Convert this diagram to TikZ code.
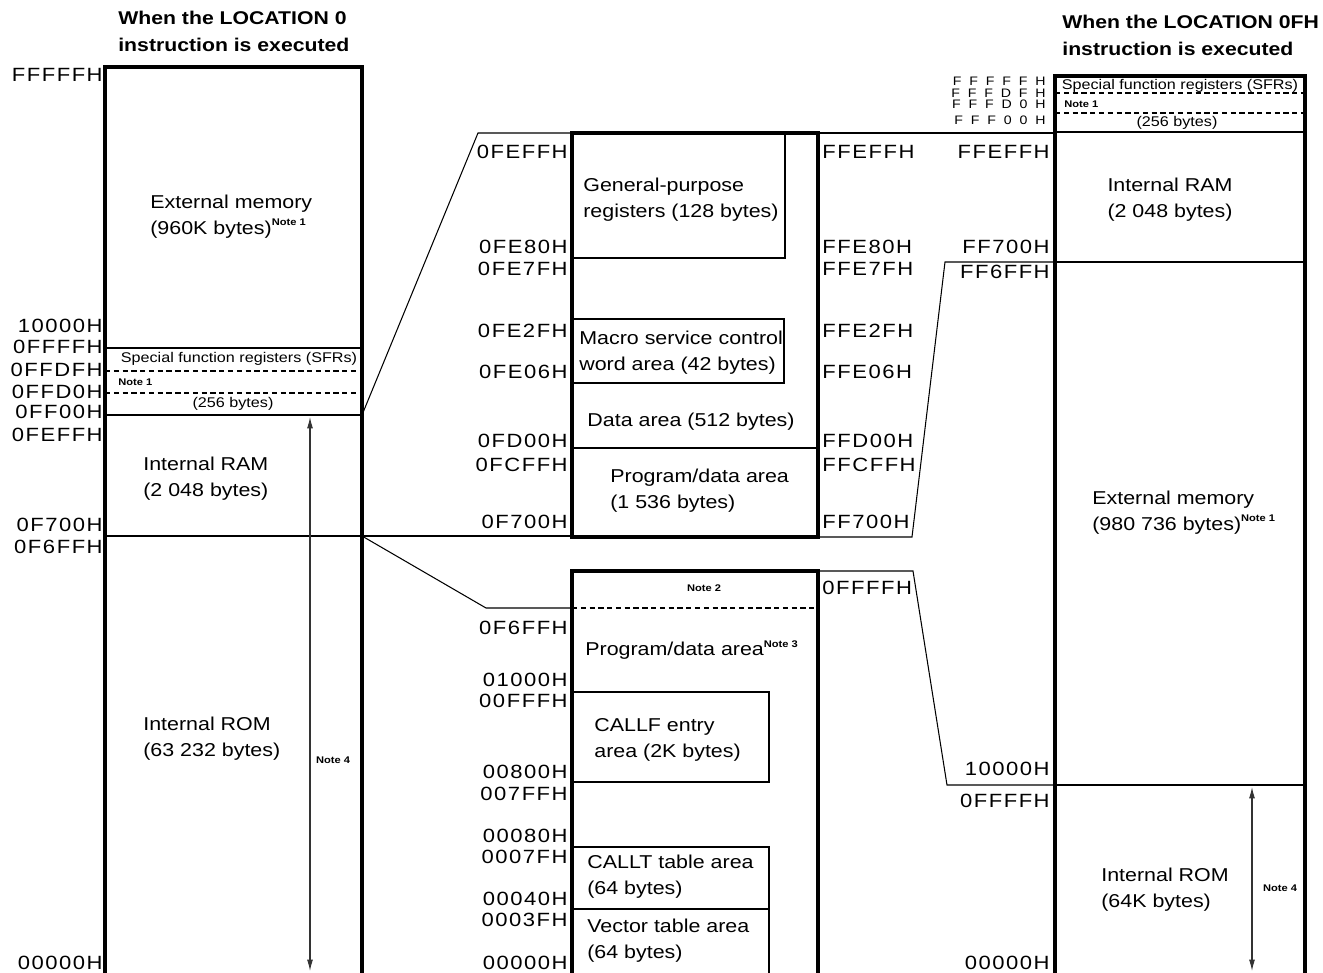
\documentclass[tikz,border=0pt]{standalone}
\usepackage{fontspec}
\setmainfont[FakeStretch=1.15]{Liberation Sans}
\newfontfamily\addrfont[FakeStretch=1.15,LetterSpace=8]{Liberation Sans}
\newfontfamily\sfraddrfont[FakeStretch=1.15,LetterSpace=64]{Liberation Sans}
\usetikzlibrary{arrows.meta}
\newcommand{\notesup}[1]{\raisebox{0.9ex}{\bfseries\fontsize{5.5}{6}\selectfont Note #1}}
\tikzset{
  mem/.style={line width=2pt},
  thinl/.style={line width=0.6pt},
  sep/.style={line width=0.6pt,dash pattern=on 3pt off 2pt},
  dim/.style={line width=0.6pt,black!80,{Latex[length=6.5pt,width=3.4pt]}-{Latex[length=6.5pt,width=3.4pt]}},
  addr/.style={anchor=east,inner sep=0pt,font=\addrfont\fontsize{10.9}{12}\selectfont},
  addrl/.style={anchor=west,inner sep=0pt,font=\addrfont\fontsize{10.9}{12}\selectfont},
  sfraddr/.style={anchor=east,inner sep=0pt,font=\sfraddrfont\fontsize{7}{8}\selectfont},
  lbl/.style={inner sep=0pt,align=left,font=\fontsize{10.6}{14.7}\selectfont},
  small/.style={inner sep=0pt,font=\fontsize{8}{9}\selectfont},
  note/.style={inner sep=0pt,font=\bfseries\fontsize{5.5}{6}\selectfont},
  head/.style={inner sep=0pt,align=left,anchor=west,font=\bfseries\fontsize{10.5}{15.3}\selectfont}
}
\begin{document}
\begin{tikzpicture}[x=0.02cm,y=-0.02cm]
\useasboundingbox (0,0) rectangle (1323,973);
% headings
\node[head] at (118,31) {When the LOCATION 0\\instruction is executed};
\node[head] at (1062,35) {When the LOCATION 0FH\\instruction is executed};

% left map
\draw[thinl] (105,348) -- (362,348);
\draw[sep] (105,371) -- (362,371);
\draw[sep] (105,393) -- (362,393);
\draw[thinl] (105,415) -- (362,415);
\draw[thinl] (105,536) -- (362,536);
\draw[mem] (105,973) -- (105,67) -- (362,67) -- (362,973);
\node[lbl,anchor=west] at (150,217) {External memory\\(960K bytes)\notesup{1}};
\node[small] at (239,359) {Special function registers (SFRs)};
\node[note,anchor=west] at (118,382) {Note 1};
\node[small] at (233,404) {(256 bytes)};
\node[lbl,anchor=west] at (143,479) {Internal RAM\\(2 048 bytes)};
\node[lbl,anchor=west] at (143,739) {Internal ROM\\(63 232 bytes)};
\draw[dim] (310,417) -- (310,971);
\node[note] at (333,760) {Note 4};
\draw (103,75) node[addr]{FFFFFH};
\draw (103,326) node[addr]{10000H};
\draw (103,347) node[addr]{0FFFFH};
\draw (103,370) node[addr]{0FFDFH};
\draw (103,392) node[addr]{0FFD0H};
\draw (103,412) node[addr]{0FF00H};
\draw (103,435) node[addr]{0FEFFH};
\draw (103,525) node[addr]{0F700H};
\draw (103,547) node[addr]{0F6FFH};
\draw (103,963) node[addr]{00000H};

% internal RAM detail
\draw[thinl] (572,258) -- (785,258) -- (785,133);
\draw[thinl] (572,319) -- (784,319) -- (784,383) -- (572,383);
\draw[thinl] (572,448) -- (818,448);
\draw[mem] (572,133) rectangle (818,537);
\node[lbl,anchor=west] at (583,200) {General-purpose\\registers (128 bytes)};
\node[lbl,anchor=west] at (579,353) {Macro service control\\word area (42 bytes)};
\node[lbl] at (691,422) {Data area (512 bytes)};
\node[lbl,anchor=west] at (610,491) {Program/data area\\(1 536 bytes)};
\draw (568,152) node[addr]{0FEFFH};
\draw (568,247) node[addr]{0FE80H};
\draw (568,269) node[addr]{0FE7FH};
\draw (568,331) node[addr]{0FE2FH};
\draw (568,372) node[addr]{0FE06H};
\draw (568,441) node[addr]{0FD00H};
\draw (568,465) node[addr]{0FCFFH};
\draw (568,522) node[addr]{0F700H};
\draw (822,152) node[addrl]{FFEFFH};
\draw (822,247) node[addrl]{FFE80H};
\draw (822,269) node[addrl]{FFE7FH};
\draw (822,331) node[addrl]{FFE2FH};
\draw (822,372) node[addrl]{FFE06H};
\draw (822,441) node[addrl]{FFD00H};
\draw (822,465) node[addrl]{FFCFFH};
\draw (822,522) node[addrl]{FF700H};

% internal ROM detail
\draw[sep] (572,608) -- (818,608);
\draw[thinl] (572,692) -- (769,692) -- (769,782) -- (572,782);
\draw[thinl] (572,847) -- (769,847) -- (769,973);
\draw[thinl] (572,909) -- (769,909);
\draw[mem] (572,973) -- (572,571) -- (818,571) -- (818,973);
\node[note] at (704,588) {Note 2};
\node[lbl,anchor=west] at (585,650) {Program/data area\notesup{3}};
\node[lbl,anchor=west] at (594,740) {CALLF entry\\area (2K bytes)};
\node[lbl,anchor=west] at (587,877) {CALLT table area\\(64 bytes)};
\node[lbl,anchor=west] at (587,941) {Vector table area\\(64 bytes)};
\draw (568,628) node[addr]{0F6FFH};
\draw (568,680) node[addr]{01000H};
\draw (568,701) node[addr]{00FFFH};
\draw (568,772) node[addr]{00800H};
\draw (568,794) node[addr]{007FFH};
\draw (568,836) node[addr]{00080H};
\draw (568,857) node[addr]{0007FH};
\draw (568,899) node[addr]{00040H};
\draw (568,920) node[addr]{0003FH};
\draw (568,963) node[addr]{00000H};
\draw (822,588) node[addrl]{0FFFFH};

% right map
\draw[sep] (1055,93) -- (1305,93);
\draw[sep] (1055,113) -- (1305,113);
\draw[thinl] (1055,132) -- (1305,132);
\draw[thinl] (1055,262) -- (1305,262);
\draw[thinl] (1055,785) -- (1305,785);
\draw[mem] (1055,973) -- (1055,76) -- (1305,76) -- (1305,973);
\node[small] at (1180,86) {Special function registers (SFRs)};
\node[note,anchor=west] at (1064,104) {Note 1};
\node[small] at (1177,123) {(256 bytes)};
\node[lbl,align=center] at (1170,200) {Internal RAM\\(2 048 bytes)};
\node[lbl,anchor=west] at (1092,513) {External memory\\(980 736 bytes)\notesup{1}};
\node[lbl,anchor=west] at (1101,890) {Internal ROM\\(64K bytes)};
\draw[dim] (1252,787) -- (1252,971);
\node[note] at (1280,888) {Note 4};
\draw (1046,81) node[sfraddr]{FFFFFH};
\draw (1046,93) node[sfraddr]{FFFDFH};
\draw (1046,104) node[sfraddr]{FFFD0H};
\draw (1046,120) node[sfraddr]{FFF00H};
\draw (1050,152) node[addr]{FFEFFH};
\draw (1050,247) node[addr]{FF700H};
\draw (1050,272) node[addr]{FF6FFH};
\draw (1050,769) node[addr]{10000H};
\draw (1050,801) node[addr]{0FFFFH};
\draw (1050,963) node[addr]{00000H};

% expansion lines
\coordinate (ramL) at (362,415);
\coordinate (ramR) at (1055,262);
\coordinate (romL) at (362,536);
\coordinate (romR) at (1055,785);
\draw[thinl] (ramL) -- (478,133) -- (572,133);
\draw[thinl] (818,133) -- (1055,133);
\draw[thinl] (romL) -- (572,536);
\draw[thinl] (818,537) -- (912,537) -- (945,262) -- (ramR);
\draw[thinl] (romL) -- (486,608) -- (572,608);
\draw[thinl] (818,571) -- (913,571) -- (947,785) -- (romR);
\end{tikzpicture}
\end{document}
